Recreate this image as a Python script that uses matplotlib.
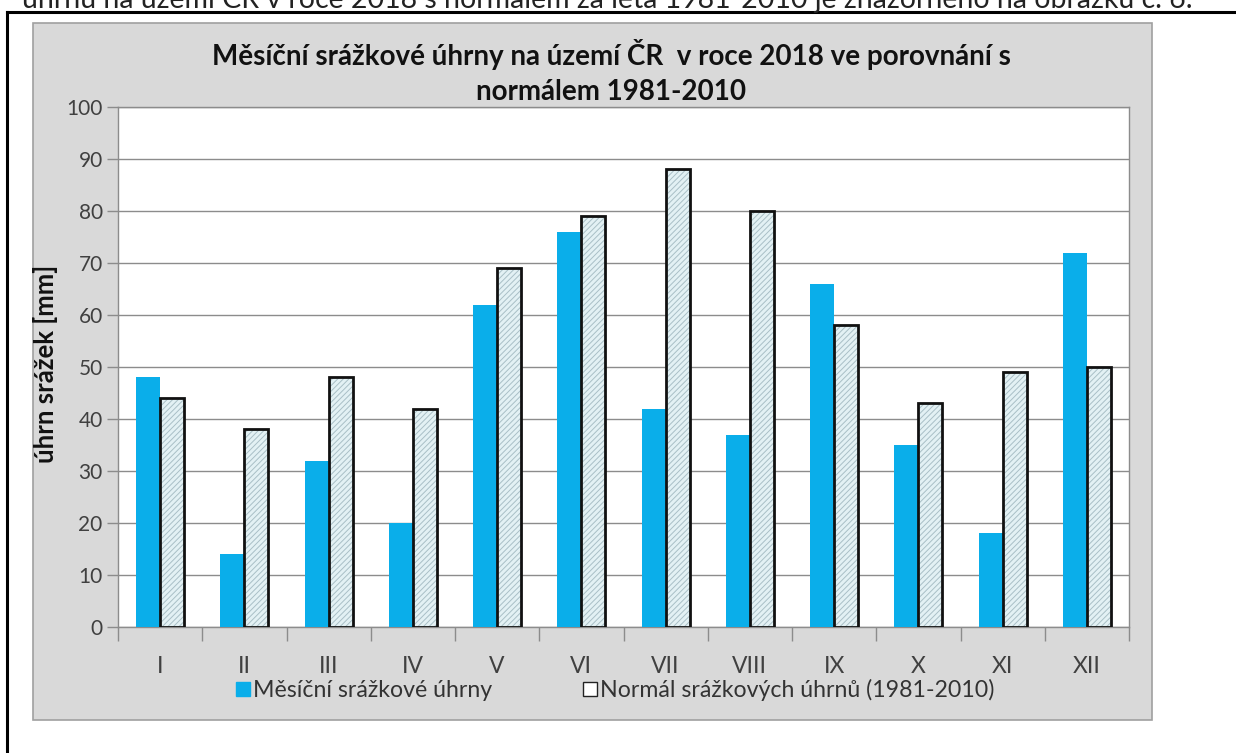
import matplotlib
matplotlib.use("Agg")
import matplotlib.pyplot as plt
import matplotlib.patches as mpatches
from matplotlib.lines import Line2D
import numpy as np

plt.rcParams['font.family'] = ['Lato', 'DejaVu Sans']
plt.rcParams['hatch.linewidth'] = 0.7

# Data
months = ["I", "II", "III", "IV", "V", "VI", "VII", "VIII", "IX", "X", "XI", "XII"]
rain_2018 = [48, 14, 32, 20, 62, 76, 42, 37, 66, 35, 18, 72]
normal_1981_2010 = [44, 38, 48, 42, 69, 79, 88, 80, 58, 43, 49, 50]

title = "Měsíční srážkové úhrny na území ČR  v roce 2018 ve porovnání s\nnormálem 1981-2010"
ylabel = "úhrn srážek [mm]"
label_2018 = "Měsíční srážkové úhrny"
label_normal = "Normál srážkových úhrnů (1981-2010)"
caption = "úhrnu na území ČR v roce 2018 s normálem za léta 1981-2010 je znázorněno na obrázku č. 6."

W, H = 1236, 753
fig = plt.figure(figsize=(W / 100, H / 100), dpi=100)
fig.patch.set_facecolor("white")

def fx(px):
    return px / W

def fy(py):
    return 1 - py / H

# Running text line above the figure frame (partly cut by the page edge)
fig.text(fx(22), fy(8), caption, fontsize=20.5, color="#222222",
         ha="left", va="baseline")

# Page frame
fig.add_artist(Line2D([fx(7), fx(1240)], [fy(12), fy(12)], color="black", lw=2.2,
                      transform=fig.transFigure))
fig.add_artist(Line2D([fx(7), fx(7)], [fy(12), fy(760)], color="black", lw=2.2,
                      transform=fig.transFigure))

# Chart area box
fig.add_artist(mpatches.Rectangle((fx(33), fy(720)), fx(1152 - 33), (720 - 23) / H,
                                  transform=fig.transFigure, facecolor="#D9D9D9",
                                  edgecolor="#A0A0A0", lw=1.2, zorder=0))

ax = fig.add_axes([fx(118), fy(627), fx(1129 - 118), (627 - 107) / H])
ax.set_facecolor("white")

x = np.arange(len(months))
bw = 0.285
off = 0.142

ax.bar(x - off, rain_2018, bw, color="#0AAEEA", edgecolor="none", zorder=3)
ax.bar(x + off, normal_1981_2010, bw, color="#E3F1F4", edgecolor="#A9BFC6",
       hatch="//////", lw=0, zorder=3)
ax.bar(x + off, normal_1981_2010, bw, color="none", edgecolor="#111111",
       lw=2.0, zorder=4)

ax.set_xlim(-0.5, len(months) - 0.5)
ax.set_ylim(0, 100)
ax.set_yticks(np.arange(0, 101, 10))
ax.yaxis.grid(True, color="#8C8C8C", lw=1.0, zorder=1)
ax.set_axisbelow(True)

ax.set_xticks(np.arange(-0.5, len(months), 1.0))
ax.set_xticklabels([])
ax.set_xticks(x, minor=True)
ax.set_xticklabels(months, minor=True)
ax.tick_params(axis="x", which="major", length=10, width=1, color="#8C8C8C", direction="out")
ax.tick_params(axis="x", which="minor", length=0, pad=21, labelsize=16.5, labelcolor="#404040")
ax.tick_params(axis="y", length=8, width=1, color="#8C8C8C", pad=3,
               labelsize=15, labelcolor="#404040")

for s in ax.spines.values():
    s.set_color("#8C8C8C")
    s.set_linewidth(1.0)

fig.text(fx(611), fy(55), title.split("\n")[0], fontsize=20, fontweight="bold",
         ha="center", va="center", color="#111111")
fig.text(fx(611), fy(92), title.split("\n")[1], fontsize=20, fontweight="bold",
         ha="center", va="center", color="#111111")

fig.text(fx(46), fy(364), ylabel, fontsize=18.5, fontweight="bold", rotation=90,
         ha="center", va="center", color="#111111")

handles = [
    mpatches.Patch(facecolor="#0AAEEA", edgecolor="#0AAEEA", label=label_2018),
    mpatches.Patch(facecolor="white", edgecolor="#222222", lw=1.0, label=label_normal),
]
fig.legend(handles=handles, loc="center", bbox_to_anchor=(fx(615), fy(690)),
           ncol=2, frameon=False, fontsize=16.7, handlelength=0.6, handleheight=0.6,
           handletextpad=0.15, columnspacing=3.9, labelcolor="#333333")

fig.savefig("out.png", dpi=100, facecolor=fig.get_facecolor())
